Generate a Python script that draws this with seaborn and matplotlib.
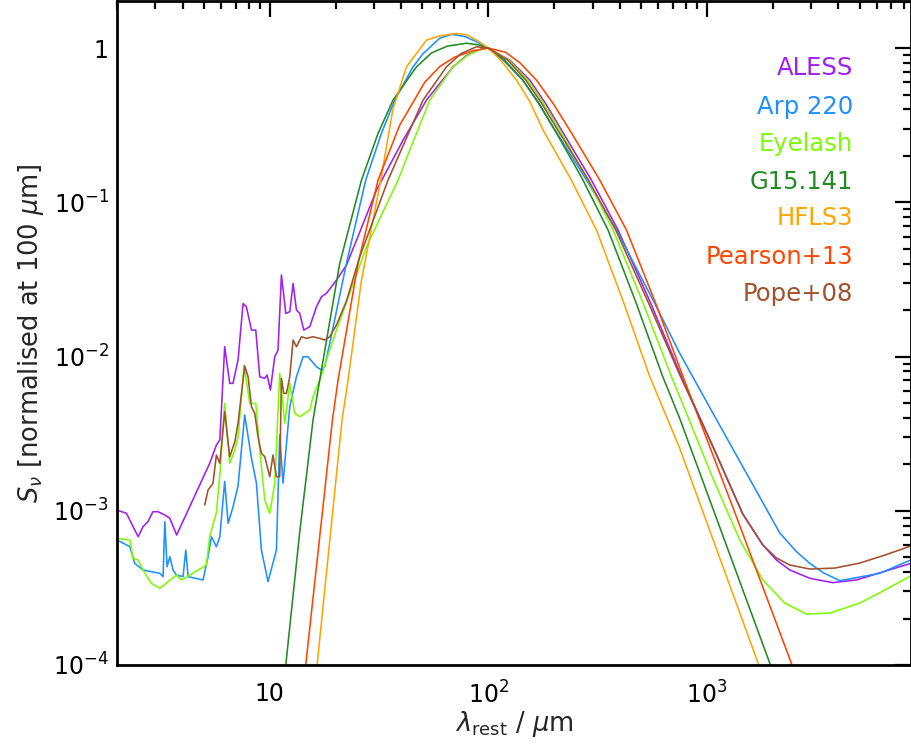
import numpy as np
import pandas as pd
import matplotlib
matplotlib.use("Agg")
import matplotlib.pyplot as plt
import matplotlib.ticker as mticker
import seaborn as sns

# ---------------- data ----------------
templates = ["ALESS", "Arp 220", "Eyelash", "G15.141", "HFLS3", "Pearson+13", "Pope+08"]
colors = ["#a020f0", "#1e90ff", "#7cfc00", "#228b22", "#ffa500", "#ff4500", "#a0522d"]

aless_wl = [2.0, 2.21, 2.37, 2.50, 2.63, 2.77, 2.92, 3.08, 3.31, 3.49, 3.75, 5.31, 5.70, 5.91,
            6.22, 6.56, 6.79, 7.16, 7.55, 7.82, 8.25, 8.63, 9.00, 9.49, 9.72, 10.07, 10.54,
            10.91, 11.31, 11.84, 12.35, 12.79, 13.25, 13.72, 14.31, 15.24, 16.36, 17.24, 18.17,
            20.2, 22.44, 25.82, 30.79, 40.75, 52.16, 69.0, 80.0, 94.7, 100, 125.9, 154.9,
            183.0, 216.3, 294.9, 392.7, 552.1, 765.8, 1069, 1461, 1804, 2084, 2399, 2960,
            3773, 4842, 8590]
aless_flux = [1.01e-3, 9.63e-4, 7.88e-4, 6.79e-4, 7.88e-4, 8.49e-4, 9.86e-4, 9.86e-4, 9.39e-4,
              8.94e-4, 6.96e-4, 2.03e-3, 2.67e-3, 2.88e-3, 1.158e-2, 6.70e-3, 6.70e-3, 9.49e-3,
              2.21e-2, 2.10e-2, 1.485e-2, 1.485e-2, 7.40e-3, 7.22e-3, 7.59e-3, 6.07e-3, 9.97e-3,
              1.10e-2, 3.38e-2, 1.905e-2, 1.952e-2, 2.98e-2, 2.00e-2, 1.905e-2, 1.485e-2,
              1.56e-2, 2.10e-2, 2.44e-2, 2.57e-2, 3.13e-2, 3.92e-2, 6.41e-2, 0.120, 0.253,
              0.460, 0.756, 0.90, 0.998, 1.0, 0.832, 0.620, 0.4365, 0.294, 0.1413, 0.0661,
              0.0224, 7.40e-3, 2.59e-3, 9.53e-4, 6.0e-4, 4.79e-4, 4.13e-4, 3.65e-4, 3.42e-4,
              3.56e-4, 4.56e-4]

arp220_wl = [2.0, 2.29, 2.41, 2.63, 3.14, 3.25, 3.31, 3.39, 3.49, 3.61, 3.74, 4.01, 4.13, 4.23,
             4.95, 5.22, 5.41, 5.70, 5.91, 6.22, 6.45, 6.79, 7.16, 7.68, 8.25, 8.69, 9.16, 9.82,
             10.73, 11.11, 11.50, 12.35, 13.25, 14.21, 14.97, 16.36, 17.24, 17.85, 18.82, 22.44,
             27.5, 32.44, 37.34, 45.27, 50.3, 60.0, 67.86, 78.0, 88.3, 100, 117.5, 143.8, 168.7,
             197.4, 279.9, 386.2, 575.4, 752, 1065, 1519, 2158, 2574, 2960, 3406, 4062, 6190,
             8590]
arp220_flux = [6.46e-4, 5.85e-4, 4.56e-4, 4.13e-4, 3.93e-4, 3.74e-4, 8.49e-4, 4.34e-4, 5.04e-4,
               4.13e-4, 3.83e-4, 3.74e-4, 5.56e-4, 3.74e-4, 3.56e-4, 5.04e-4, 6.79e-4, 5.85e-4,
               6.79e-4, 1.55e-3, 8.29e-4, 1.06e-3, 1.45e-3, 4.18e-3, 2.19e-3, 1.51e-3, 5.56e-4,
               3.47e-4, 5.56e-4, 3.10e-3, 1.51e-3, 4.73e-3, 7.40e-3, 9.97e-3, 9.97e-3, 8.59e-3,
               8.18e-3, 8.59e-3, 1.218e-2, 4.02e-2, 0.1394, 0.280, 0.460, 0.756, 0.92, 1.16,
               1.227, 1.19, 1.10, 1.0, 0.832, 0.620, 0.45, 0.31, 0.1413, 0.0661, 0.0224,
               1.05e-2, 4.31e-3, 1.75e-3, 7.18e-4, 5.43e-4, 4.56e-4, 3.97e-4, 3.52e-4, 3.93e-4,
               4.80e-4]

eyelash_wl = [2.0, 2.29, 2.37, 2.50, 2.63, 2.87, 3.14, 3.74, 3.94, 4.08, 5.13, 5.31, 5.70, 5.91,
              6.22, 6.56, 6.92, 7.16, 7.63, 8.10, 8.63, 9.00, 9.49, 10.0, 10.54, 11.11, 11.71,
              12.35, 13.01, 13.72, 14.46, 15.24, 15.78, 16.93, 20.2, 27.71, 38.66, 43.73, 54.0,
              69.0, 80.0, 90.0, 100, 124.5, 151.6, 179.5, 212.4, 284.5, 372.6, 509.8, 689.2, 752,
              1065, 1416, 1804, 2275, 2860, 3656, 5012, 6498, 8590]
eyelash_flux = [6.63e-4, 6.46e-4, 4.92e-4, 4.79e-4, 4.13e-4, 3.39e-4, 3.14e-4, 3.83e-4, 3.56e-4,
                3.65e-4, 4.45e-4, 6.79e-4, 9.74e-4, 1.705e-3, 4.97e-3, 2.03e-3, 2.48e-3, 3.02e-3,
                8.81e-3, 4.97e-3, 4.97e-3, 2.48e-3, 1.174e-3, 9.63e-4, 1.507e-3, 7.78e-3,
                3.69e-3, 6.70e-3, 4.28e-3, 4.07e-3, 4.28e-3, 4.50e-3, 5.49e-3, 7.04e-3, 1.485e-2,
                5.15e-2, 0.1394, 0.218, 0.460, 0.756, 0.89, 0.97, 1.0, 0.832, 0.620, 0.4365,
                0.294, 0.1413, 0.0661, 0.0224, 7.40e-3, 5.48e-3, 1.63e-3, 6.46e-4, 3.56e-4,
                2.52e-4, 2.14e-4, 2.17e-4, 2.52e-4, 3.05e-4, 3.79e-4]

g15_wl = [11.84, 13.72, 15.78, 16.93, 20.91, 26.29, 31.31, 36.67, 46.93, 55.0, 65.0, 79.5, 90.0,
          100, 118.9, 143.8, 170.2, 201.6, 270.0, 353.4, 474.2, 628.9, 752, 1956]
g15_flux = [1e-4, 7.31e-4, 3.88e-3, 7.04e-3, 4.02e-2, 0.1394, 0.280, 0.460, 0.756, 0.93, 1.03,
            1.075, 1.05, 1.0, 0.832, 0.620, 0.4365, 0.294, 0.1413, 0.0661, 0.0224, 7.40e-3,
            3.97e-3, 1e-4]

hfls3_wl = [16.47, 21.42, 22.83, 26.29, 32.21, 36.55, 42.23, 52.16, 60.0, 71.54, 80.0, 90.0, 100,
            114.3, 134.6, 154.9, 178.2, 238.8, 312.7, 416.5, 548.4, 752, 1730]
hfls3_flux = [1e-4, 3.88e-3, 7.04e-3, 3.13e-2, 0.1394, 0.396, 0.756, 1.127, 1.20, 1.245, 1.215,
              1.11, 1.0, 0.832, 0.620, 0.45, 0.294, 0.1413, 0.0661, 0.0224, 7.40e-3, 2.54e-3,
              1e-4]

pearson_wl = [14.61, 19.36, 20.54, 25.36, 31.31, 39.36, 51.2, 60.0, 70.2, 85.0, 100, 120, 140,
              166.2, 198.2, 236, 322.1, 429, 581.6, 778.8, 1357, 2455]
pearson_flux = [1e-4, 3.88e-3, 7.04e-3, 4.02e-2, 0.1394, 0.317, 0.60, 0.76, 0.874, 0.96, 1.0,
                0.94, 0.80, 0.620, 0.4365, 0.294, 0.1413, 0.0661, 0.0224, 7.40e-3, 9.39e-4, 1e-4]

pope_wl = [5.04, 5.22, 5.50, 5.70, 5.91, 6.22, 6.56, 6.92, 7.16, 7.68, 7.96, 8.25, 8.54, 8.84,
           9.16, 9.49, 10.0, 10.35, 10.73, 11.11, 11.31, 11.59, 11.92, 12.35, 12.79, 13.25,
           13.97, 14.72, 15.78, 16.93, 17.85, 18.82, 20.2, 22.44, 25.82, 34.78, 50.3, 64.38,
           75.0, 88.3, 100, 123.0, 148.5, 175.8, 208, 285.8, 383.3, 540.2, 752, 1069, 1461,
           1804, 2084, 2399, 2960, 3853, 5012, 6525, 8590]
pope_flux = [1.09e-3, 1.363e-3, 1.507e-3, 2.30e-3, 2.03e-3, 4.39e-3, 2.24e-3, 2.80e-3, 3.69e-3,
             8.68e-3, 7.40e-3, 4.73e-3, 4.28e-3, 3.02e-3, 2.36e-3, 2.24e-3, 1.663e-3, 2.30e-3,
             1.663e-3, 1.663e-3, 7.22e-3, 5.77e-3, 5.77e-3, 7.40e-3, 1.279e-2, 1.158e-2,
             1.344e-2, 1.312e-2, 1.344e-2, 1.312e-2, 1.279e-2, 1.344e-2, 1.60e-2, 2.29e-2,
             4.44e-2, 0.1394, 0.460, 0.756, 0.92, 1.02, 1.0, 0.832, 0.620, 0.4365, 0.294,
             0.1413, 0.0661, 0.0224, 7.60e-3, 2.59e-3, 9.53e-4, 6.0e-4, 4.94e-4, 4.45e-4,
             4.19e-4, 4.25e-4, 4.58e-4, 5.16e-4, 5.91e-4]

x_ticks = [10, 100, 1000]
x_tick_labels = ["10", r"$10^{2}$", r"$10^{3}$"]
y_ticks = [1e-4, 1e-3, 1e-2, 1e-1, 1]
y_tick_labels = [r"$10^{-4}$", r"$10^{-3}$", r"$10^{-2}$", r"$10^{-1}$", "1"]

# ---------------- build table ----------------
series = [(aless_wl, aless_flux), (arp220_wl, arp220_flux), (eyelash_wl, eyelash_flux),
          (g15_wl, g15_flux), (hfls3_wl, hfls3_flux), (pearson_wl, pearson_flux),
          (pope_wl, pope_flux)]
frames = []
for name, (wl, fl) in zip(templates, series):
    frames.append(pd.DataFrame({"wl": wl, "flux": fl, "template": name}))
df = pd.concat(frames, ignore_index=True)

# ---------------- plot ----------------
sns.set_style("white")
plt.rcParams["font.family"] = ["DejaVu Sans"]
plt.rcParams["mathtext.fontset"] = "dejavusans"

fig = plt.figure(figsize=(9.11, 7.49), dpi=100)
ax = fig.add_axes([117 / 911, 84 / 749, 794 / 911, 664 / 749])

palette = dict(zip(templates, colors))
sns.lineplot(data=df, x="wl", y="flux", hue="template", palette=palette,
             estimator=None, sort=False, legend=False, lw=1.15, ax=ax)

ax.set_xscale("log")
ax.set_yscale("log")
ax.set_xlim(2.0, 8600)
ax.set_ylim(1e-4, 2.02)

ax.xaxis.set_major_locator(mticker.FixedLocator(x_ticks))
ax.xaxis.set_major_formatter(mticker.FixedFormatter(x_tick_labels))
ax.yaxis.set_major_locator(mticker.FixedLocator(y_ticks))
ax.yaxis.set_major_formatter(mticker.FixedFormatter(y_tick_labels))
ax.xaxis.set_minor_locator(mticker.LogLocator(base=10, subs=np.arange(2, 10), numticks=20))
ax.yaxis.set_minor_locator(mticker.LogLocator(base=10, subs=np.arange(2, 10), numticks=20))
ax.xaxis.set_minor_formatter(mticker.NullFormatter())
ax.yaxis.set_minor_formatter(mticker.NullFormatter())

ax.tick_params(which="both", direction="in", top=True, right=True, colors="black",
               labelsize=17)
ax.tick_params(which="major", length=11.5, width=1.6)
ax.tick_params(which="minor", length=6, width=1.6)
ax.tick_params(axis="x", which="major", pad=12)
ax.tick_params(axis="y", which="major", pad=6)

for sp in ax.spines.values():
    sp.set_visible(True)
    sp.set_linewidth(2.0)
    sp.set_color("black")

ax.set_xlabel(r"$\lambda_{\rm rest}$ / $\mu$m", fontsize=18.5)
ax.set_ylabel(r"$S_\nu$ [normalised at 100 $\mu$m]", fontsize=18.5)
ax.xaxis.set_label_coords(0.5, -0.066)
ax.yaxis.set_label_coords(-0.089, 0.5)

legend_y = [0.899, 0.840, 0.785, 0.727, 0.673, 0.614, 0.559]
for name, c, yy in zip(templates, colors, legend_y):
    ax.text(0.927, yy, name, color=c, ha="right", va="center", fontsize=17.5,
            transform=ax.transAxes)

fig.savefig("out.png", dpi=100)
